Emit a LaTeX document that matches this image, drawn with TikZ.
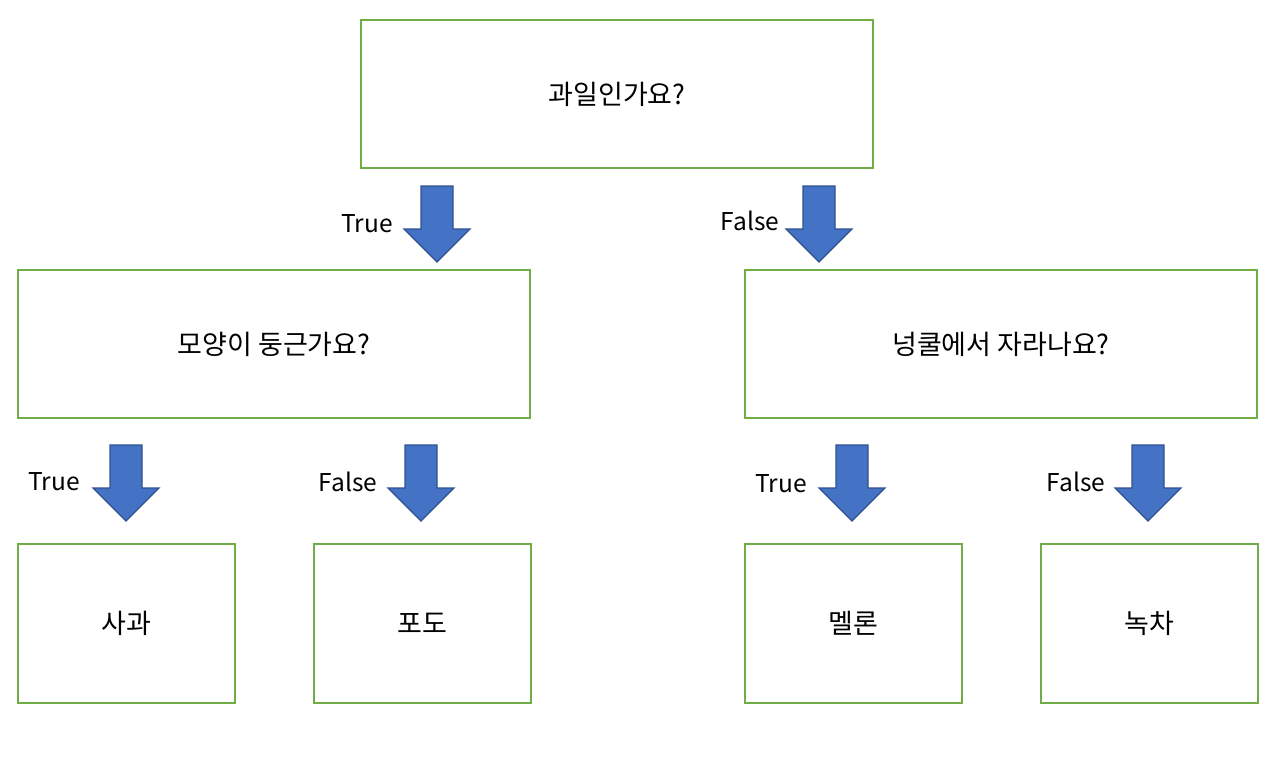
\documentclass[tikz,border=0pt]{standalone}
\usepackage{fontspec}
\setmainfont{Noto Sans CJK KR}
\definecolor{boxgreen}{HTML}{70AD47}
\definecolor{arrfill}{HTML}{4472C4}
\definecolor{arrline}{HTML}{2F528F}
\tikzset{
  qbox/.style={draw=boxgreen, line width=2pt, fill=white, minimum width=512pt, minimum height=148pt, inner sep=0pt, font=\fontsize{27}{32}\selectfont},
  leafbox/.style={draw=boxgreen, line width=2pt, fill=white, minimum width=217pt, minimum height=159pt, inner sep=0pt, font=\fontsize{27}{32}\selectfont},
  lbl/.style={inner sep=0pt, font=\fontsize{24.5}{28}\selectfont},
  pics/downarrow/.style={code={
    \draw[fill=arrfill, draw=arrline, line width=1.2pt, line join=miter]
      (-16,0) -- (16,0) -- (16,43) -- (33,43) -- (0,76) -- (-33,43) -- (-16,43) -- cycle;
  }}
}
\begin{document}
\begin{tikzpicture}[x=1pt,y=-1pt]
\useasboundingbox (0,0) rectangle (1287,756);
\fill[white] (0,0) rectangle (1287,756);
\node[qbox] (root) at (617,94) {과일인가요?};
\node[qbox] (round) at (274,344) {모양이 둥근가요?};
\node[qbox] (vine) at (1001,344) {넝쿨에서 자라나요?};
\node[leafbox] (apple) at (126.5,623.5) {사과};
\node[leafbox] (grape) at (422.5,623.5) {포도};
\node[leafbox] (melon) at (853.5,623.5) {멜론};
\node[leafbox] (tea) at (1149.5,623.5) {녹차};
\pic at (437,186) {downarrow};
\pic at (819,186) {downarrow};
\pic at (126,445) {downarrow};
\pic at (421,445) {downarrow};
\pic at (852,445) {downarrow};
\pic at (1148,445) {downarrow};
\node[lbl] (t1) at (367,224) {True};
\node[lbl] (f1) at (750,221) {False};
\node[lbl] (t2) at (54,482) {True};
\node[lbl] (f2) at (348,482) {False};
\node[lbl] (t3) at (781,484) {True};
\node[lbl] (f3) at (1076,482) {False};
\end{tikzpicture}
\end{document}
